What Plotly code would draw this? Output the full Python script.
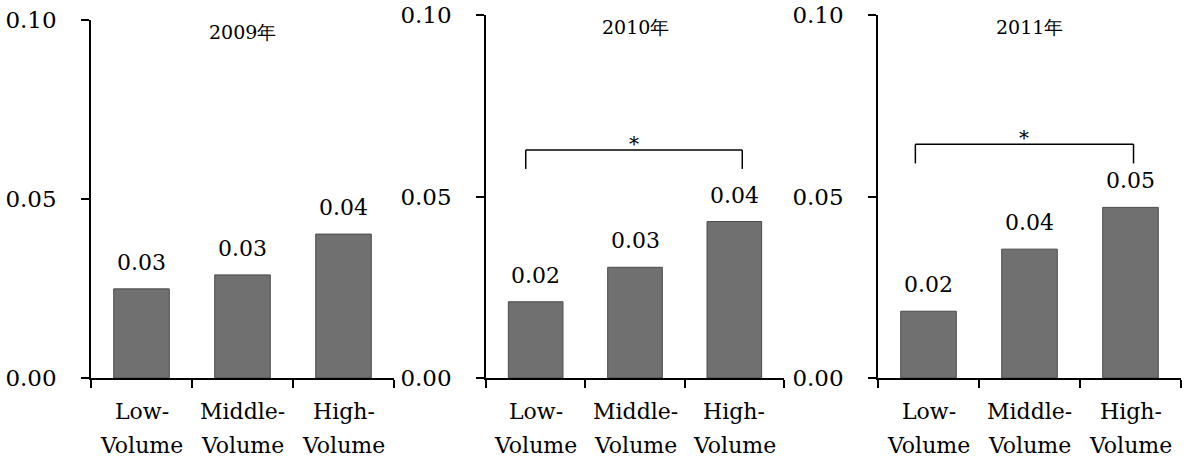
import plotly.graph_objects as go

# ---- data ----
years = ["2009年", "2010年", "2011年"]
categories_line1 = ["Low-", "Middle-", "High-"]
categories_line2 = ["Volume", "Volume", "Volume"]
values_2009 = [0.0249, 0.0288, 0.0402]
values_2010 = [0.0210, 0.0305, 0.0431]
values_2011 = [0.0184, 0.0355, 0.0470]
labels_2009 = ["0.03", "0.03", "0.04"]
labels_2010 = ["0.02", "0.03", "0.04"]
labels_2011 = ["0.02", "0.04", "0.05"]
# significance bracket (top, leg-bottom) in data units; None = no bracket
sig_top = [None, 0.0628, 0.0644]
sig_leg = [None, 0.0576, 0.0591]
sig_span = [None, (-0.10, 2.08), (-0.13, 2.03)]
y_tickvals = [0.0, 0.05, 0.10]
y_ticktext = ["0.00", "0.05", "0.10"]

all_values = [values_2009, values_2010, values_2011]
all_labels = [labels_2009, labels_2010, labels_2011]

W, H = 1186, 461
FONT = "DejaVu Serif"
BAR = "#707070"

# layout geometry (pixels)
x_dom_px = [(91, 394), (486, 784), (878, 1181)]
y_dom_px = [(20, 378), (15, 378), (15, 378)]

fig = go.Figure()
layout = dict(
    width=W, height=H,
    margin=dict(l=0, r=0, t=0, b=0, autoexpand=False),
    paper_bgcolor="white", plot_bgcolor="white",
    showlegend=False,
    font=dict(family=FONT, size=22, color="black"),
)
annotations = []
shapes = []
xs = [0, 1, 2]

for i in range(3):
    sfx = "" if i == 0 else str(i + 1)
    xa, ya = "x" + sfx, "y" + sfx
    fig.add_trace(go.Bar(
        x=xs, y=all_values[i], xaxis=xa, yaxis=ya,
        width=0.55,
        marker=dict(color=BAR, line=dict(color="#4a4a4a", width=1)),
        hoverinfo="skip",
    ))
    x0, x1 = x_dom_px[i]
    yt, yb = y_dom_px[i]
    layout["xaxis" + sfx] = dict(
        domain=[x0 / W, x1 / W], range=[-0.5, 2.5],
        anchor=ya, showgrid=False, zeroline=False,
        showline=True, linecolor="black", linewidth=1.5,
        tickmode="array", tickvals=[-0.5, 0.5, 1.5, 2.5],
        ticks="outside", ticklen=8, tickwidth=1.5, tickcolor="black",
        showticklabels=False, fixedrange=True, automargin=False,
    )
    layout["yaxis" + sfx] = dict(
        domain=[(H - yb) / H, (H - yt) / H], range=[0, 0.1],
        anchor=xa, showgrid=False, zeroline=False,
        showline=True, linecolor="black", linewidth=1.5,
        tickmode="array", tickvals=y_tickvals, ticktext=y_ticktext,
        ticks="outside", ticklen=8, tickwidth=1.5, tickcolor="black",
        ticklabelstandoff=20,
        tickfont=dict(family=FONT, size=23, color="black"),
        fixedrange=True, automargin=False,
    )
    # title
    annotations.append(dict(
        text=years[i], xref="paper", yref="paper",
        x=(x0 + x1) / 2 / W, y=(H - (yt + 12)) / H,
        showarrow=False, xanchor="center", yanchor="middle",
        font=dict(family=FONT, size=19, color="black"),
    ))
    # value labels
    for j in range(3):
        annotations.append(dict(
            text=all_labels[i][j], xref=xa, yref=ya,
            x=xs[j], y=all_values[i][j],
            showarrow=False, xanchor="center", yanchor="bottom",
            yshift=12, font=dict(family=FONT, size=22, color="black"),
        ))
        # category labels (two lines)
        annotations.append(dict(
            text=categories_line1[j], xref=xa, yref="paper",
            x=xs[j], y=(H - 411) / H,
            showarrow=False, xanchor="center", yanchor="middle",
            font=dict(family=FONT, size=22, color="black"),
        ))
        annotations.append(dict(
            text=categories_line2[j], xref=xa, yref="paper",
            x=xs[j], y=0, yshift=1,
            showarrow=False, xanchor="center", yanchor="bottom",
            font=dict(family=FONT, size=22, color="black"),
        ))
    # significance bracket
    if sig_top[i] is not None:
        a, b = sig_span[i]
        line = dict(color="black", width=1.5)
        shapes.append(dict(type="line", xref=xa, yref=ya, x0=a, x1=b,
                           y0=sig_top[i], y1=sig_top[i], line=line))
        shapes.append(dict(type="line", xref=xa, yref=ya, x0=a, x1=a,
                           y0=sig_top[i], y1=sig_leg[i], line=line))
        shapes.append(dict(type="line", xref=xa, yref=ya, x0=b, x1=b,
                           y0=sig_top[i], y1=sig_leg[i], line=line))
        annotations.append(dict(
            text="*", xref=xa, yref=ya, x=(a + b) / 2, y=sig_top[i],
            showarrow=False, xanchor="center", yanchor="middle", yshift=6,
            font=dict(family=FONT, size=20, color="black"),
        ))

layout["annotations"] = annotations
layout["shapes"] = shapes
fig.update_layout(**layout)
fig.write_html("out.html", config={"displayModeBar": False},
               post_script="document.body.style.margin='0';")
